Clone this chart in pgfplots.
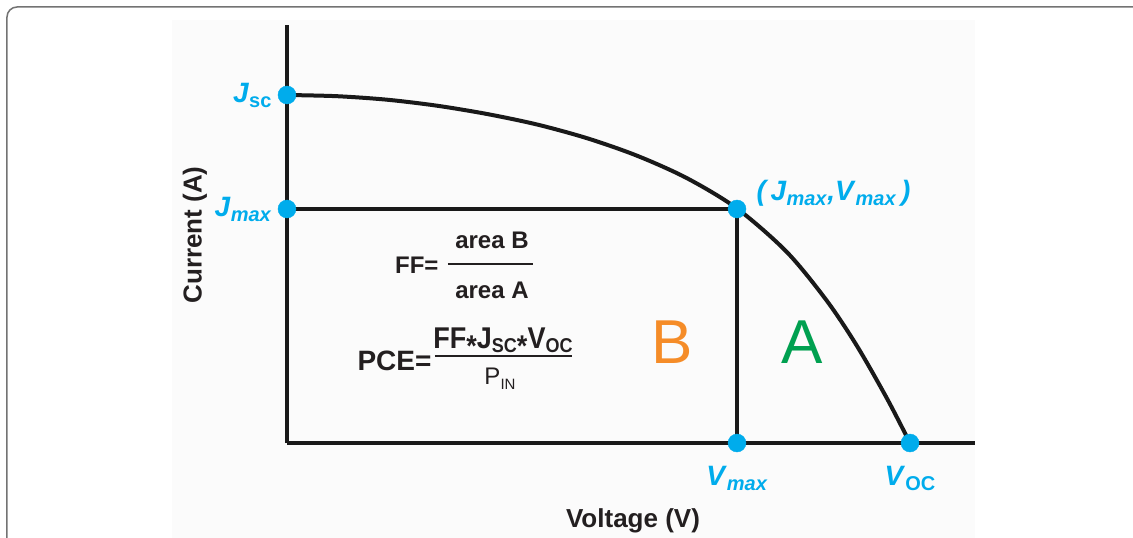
\documentclass[border=0pt]{standalone}
\usepackage{pgfplots}
\pgfplotsset{compat=1.18}
\usepackage{fontspec}
\setmainfont{Liberation Sans}
\definecolor{cy}{RGB}{0,172,236}
\definecolor{orB}{RGB}{245,140,40}
\definecolor{grA}{RGB}{0,160,80}
\definecolor{txt}{RGB}{35,31,32}
\newcommand{\fs}[1]{\fontsize{#1}{#1}\selectfont}
\newcommand{\lsub}[3]{\raisebox{-#1}{\fs{#2}#3}}
\newcommand{\st}{\raisebox{-0.3em}{*}}
\begin{document}
\begin{tikzpicture}
\fill[black!1.5] (-115pt,-95pt) rectangle (688pt,423pt);
\begin{axis}[
  scale only axis, width=688pt, height=418pt,
  xmin=0, xmax=688, ymin=0, ymax=418,
  axis x line=bottom, axis y line=left,
  axis line style={line width=4pt, -, color=black!90},
  xtick={450,623},
  xticklabels={{\textit{V}\lsub{5pt}{20}{\textit{max}}},{\textit{V}\lsub{5pt}{20}{OC}}},
  ytick={234,348},
  yticklabels={{\textit{J}\lsub{5pt}{20}{\textit{max}}},{\textit{J}\lsub{5pt}{20}{sc}}},
  major tick length=0pt,
  tick label style={color=cy, font=\fs{28}\bfseries},
  xticklabel style={anchor=north, yshift=-20pt},
  yticklabel style={anchor=east, xshift=-12pt},
  xlabel={Voltage (V)}, ylabel={Current (A)},
  label style={font=\fs{26}\bfseries, color=txt},
  xlabel style={at={(axis cs:346,-78)}, anchor=center},
  ylabel style={at={(axis cs:-92,208)}, anchor=center},
  clip=false,
]
\addplot[black!90, line width=3.5pt] coordinates {(0,234) (450,234) (450,0)};
\addplot[black!90, line width=4pt, smooth, tension=0.5] coordinates {
(0,348) (50,346.8) (100,343.3) (150,337.3) (200,329) (250,318.5) (300,304.8)
(350,287.3) (400,264.8) (450,234.5) (500,190.8) (540,142) (570,97) (600,44.5) (623,0)};
\addplot[only marks, mark=*, mark size=9pt, color=cy] coordinates {
(0,348) (0,234) (450,234) (450,0) (623,0)};
\node[anchor=west, color=cy, font=\fs{28}\bfseries] at (axis cs:466,250)
  {\textit{(\,J}\lsub{5pt}{20}{\textit{max}}\textit{,V}\lsub{5pt}{20}{\textit{max}}\textit{\,)}};
\node[anchor=east, font=\fs{24}\bfseries, color=txt] at (axis cs:155,178) {FF=};
\draw[line width=2pt, txt] (axis cs:161,179) -- (axis cs:246,179);
\node[font=\fs{24}\bfseries, color=txt] at (axis cs:205,203) {area B};
\node[font=\fs{24}\bfseries, color=txt] at (axis cs:205,153) {area A};
\node[anchor=east, font=\fs{28}\bfseries, color=txt] at (axis cs:148,82) {PCE=};
\draw[line width=2pt, txt] (axis cs:148,87) -- (axis cs:285,87);
\node[anchor=base, font=\fs{30}\bfseries, color=txt, inner sep=0pt] at (axis cs:216,95)
  {\scalebox{0.9}[1]{FF\st J\lsub{4pt}{20}{SC}\st V\lsub{4pt}{20}{OC}}};
\node[anchor=base, font=\fs{24}, color=txt, inner sep=0pt] at (axis cs:213,59)
  {P\lsub{5pt}{15}{IN}};
\node[font=\fs{62}, color=orB] at (axis cs:385,101) {B};
\node[font=\fs{62}, color=grA] at (axis cs:515,101) {A};
\end{axis}
\draw[black!55, line width=1.5pt, rounded corners=10pt] (-280pt,-95pt) -- (-280pt,436pt) -- (846pt,436pt);
\pgfresetboundingbox
\useasboundingbox (-287pt,-95pt) rectangle (846pt,443pt);
\end{tikzpicture}
\end{document}
